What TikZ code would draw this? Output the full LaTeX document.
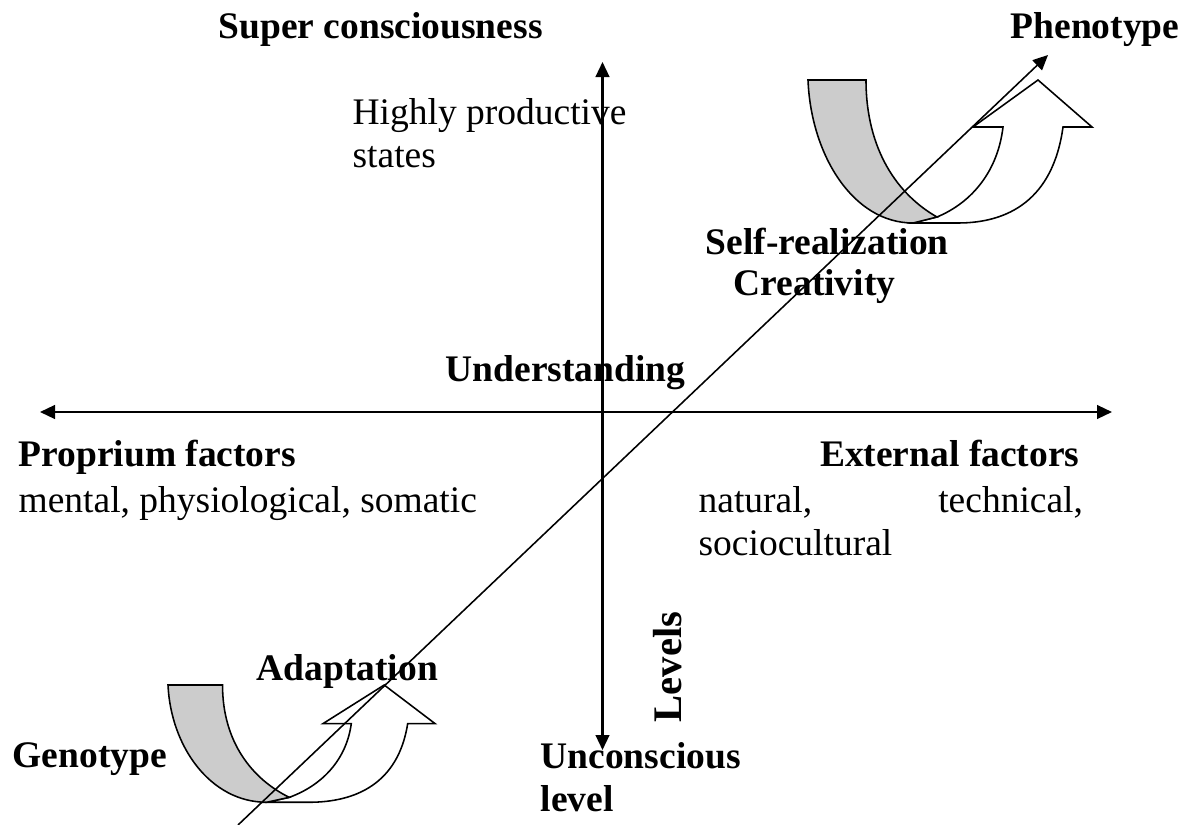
\documentclass[tikz,border=0pt]{standalone}
\usepackage{fontspec}
\setmainfont{Liberation Serif}
\usetikzlibrary{arrows.meta}

\begin{document}
\begin{tikzpicture}[
		x=0.32pt, y=-0.32pt,
		>={Triangle[length=4.8pt, width=4.4pt]},
		every node/.style={font=\fontsize{12}{13.8}\selectfont, inner sep=0pt, anchor=base west},
		heading/.style={font=\fontsize{12}{13.8}\selectfont\bfseries},
		plaintext/.style={font=\fontsize{12}{13.8}\selectfont},
		axisline/.style={<->, line width=0.65pt},
		band/.style={draw, line width=0.5pt},
		uturn/.pic={
			% front part with the head
			\path[band, fill=white] (129,137) .. controls (165,122) and (190,90) .. (195,47)
				-- (165,47) -- (230,0) -- (284,47) -- (255,47)
				.. controls (245,120) and (200,143) .. (150,143) -- (105,143) -- cycle;
			% back part, shaded
			\path[band, fill=black!20] (0,0) -- (58,0) .. controls (58,70) and (90,115) .. (129,137)
				-- (105,143) .. controls (45,143) and (3,75) .. (0,0) -- cycle;
		},
		]
		\useasboundingbox (0,0) rectangle (1188,825);
		
		% Curved arrows
		\pic (upper) at (808,80) {uturn};
		\pic[xscale=0.94, yscale=0.82] (lower) at (168,685) {uturn};
		
		% Axes
		\coordinate (axtop) at (602.5,62);
		\coordinate (axbot) at (602.5,750);
		\coordinate (axleft) at (40,412);
		\coordinate (axright) at (1112,412);
		\draw[axisline] (axbot) -- (axtop);
		\draw[axisline] (axleft) -- (axright);
		
		% Labels
		\node[heading] (supercon) at (218,38) {Super consciousness};
		\node[heading, anchor=base east] (pheno) at (1180,38) {Phenotype};
		\node[plaintext, align=left, anchor=north west] (highprod) at (352,98) {Highly productive\\states};
		\node[heading] (selfreal) at (705,254) {Self-realization};
		\node[heading] (creat) at (733,295) {Creativity};
		\node[heading] (underst) at (445,381) {Understanding};
		\node[heading] (proprium) at (18,466) {Proprium factors};
		\node[plaintext] (mental) at (18,512) {mental, physiological, somatic};
		\node[heading, anchor=base east] (external) at (1080,466) {External factors};
		\node[plaintext, text width=123pt, align=justify, anchor=north west] (natural) at (698,486)
			{natural, technical, \mbox{sociocultural}};
		\node[font=\fontsize{13}{15}\selectfont\bfseries, rotate=90, anchor=base] (levels) at (681,667) {Levels};
		\node[heading] (adapt) at (256,680) {Adaptation};
		\node[heading] (geno) at (12,767) {Genotype};
		\node[heading, align=left, anchor=north west] (uncons) at (540,742) {Unconscious\\level};
		
		% Diagonal from genotype to phenotype
		\coordinate (diagstart) at (238,825);
		\coordinate (diagend) at (1048,55);
		\draw[->, line width=0.5pt] (diagstart) -- (diagend);
		
	\end{tikzpicture}
\end{document}
